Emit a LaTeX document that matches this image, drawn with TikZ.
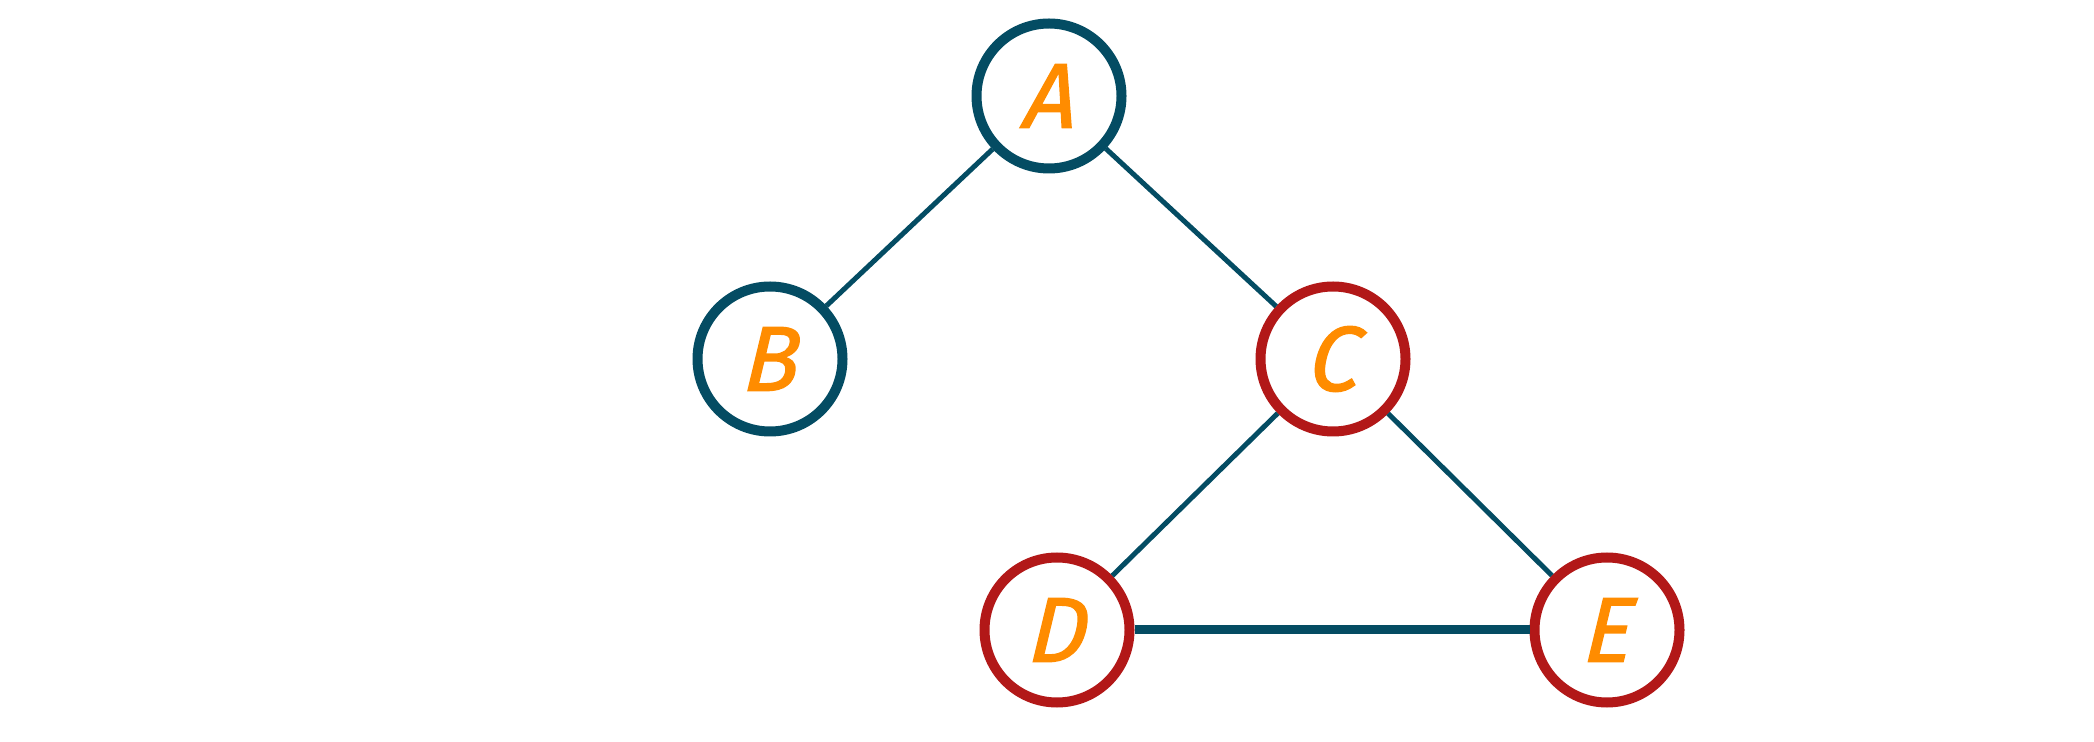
\documentclass[tikz,border=0pt]{standalone}
\usepackage{fontspec}
\newfontfamily\letterfont[FakeBold=1.5,FakeSlant=0.1]{Fira Sans}
\definecolor{teal1}{RGB}{4,76,99}
\definecolor{red1}{RGB}{178,24,24}
\definecolor{orange1}{RGB}{255,140,0}
\tikzset{
  vnode/.style={circle, draw=#1, line width=5pt, fill=white, minimum size=72.5pt, inner sep=0pt,
    text=orange1, font=\letterfont\itshape\fontsize{46}{46}\selectfont},
  edge/.style={draw=teal1, line width=2.5pt},
  thickedge/.style={draw=teal1, line width=4.5pt}
}
\begin{document}
\begin{tikzpicture}[x=0.5pt,y=-0.5pt]
\useasboundingbox (0,0) rectangle (2094,742);
\node[vnode=teal1] (A) at (1049,96) {A};
\node[vnode=teal1] (B) at (770,359) {B};
\node[vnode=red1] (C) at (1333,359) {C};
\node[vnode=red1] (D) at (1057,630) {D};
\node[vnode=red1] (E) at (1607,630) {E};
\draw[edge] (A) -- (B);
\draw[edge] (A) -- (C);
\draw[edge] (C) -- (D);
\draw[edge] (C) -- (E);
\draw[thickedge] (D) -- (E);
\end{tikzpicture}
\end{document}
